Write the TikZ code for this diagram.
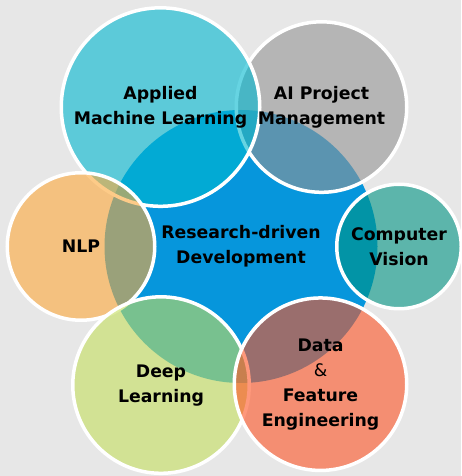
\documentclass[tikz,border=0pt]{standalone}
\usepackage{fontspec}
\setsansfont{DejaVu Sans}
\usepackage{tikz}
\definecolor{bggray}{RGB}{231,231,231}
\definecolor{hubblue}{RGB}{6,150,220}
\definecolor{cvteal}{RGB}{0,148,131}
\definecolor{pmgray}{RGB}{148,148,148}
\definecolor{amlcyan}{RGB}{0,184,208}
\definecolor{nlporange}{RGB}{253,169,58}
\definecolor{dlgreen}{RGB}{196,223,93}
\definecolor{dfesalmon}{RGB}{254,84,36}
\begin{document}
\begin{tikzpicture}[x=1pt,y=1pt,hub/.style={circle,fill=hubblue,inner sep=0pt},
    sat/.style={circle,draw=white,line width=3.5pt,fill=#1,fill opacity=0.6,
    inner sep=0pt},lbl/.style={align=center,text=black,
    font=\sffamily\bfseries\fontsize{17.3}{25}\selectfont}]
  \useasboundingbox (0,0) rectangle (461,476);
  \fill[bggray] (0,0) rectangle (461,476);
  \node[hub,minimum size=273pt] (rd) at (241,229.5) {};
  \node[sat=cvteal,minimum size=124.5pt] (cv) at ([shift={(0:158pt)}]rd.center) {};
  \node[sat=pmgray,minimum size=170.5pt] (pm) at ([shift={(60:161pt)}]rd.center) {};
  \node[sat=amlcyan,minimum size=198.5pt] (aml) at ([shift={(120:161pt)}]rd.center) {};
  \node[sat=nlporange,minimum size=147.5pt] (nlp) at ([shift={(180:160pt)}]rd.center) {};
  \node[sat=dlgreen,minimum size=176.5pt] (dl) at ([shift={(240:160pt)}]rd.center) {};
  \node[sat=dfesalmon,minimum size=172.5pt] (dfe) at ([shift={(300:159pt)}]rd.center) {};
  \node[lbl] (rd-t) at (rd) {Research-driven\\Development};
  \node[lbl] (cv-t) at (cv) {Computer\\Vision};
  \node[lbl] (pm-t) at (pm) {AI Project\\Management};
  \node[lbl] (aml-t) at (aml) {Applied\\Machine Learning};
  \node[lbl] (nlp-t) at (nlp) {NLP};
  \node[lbl] (dl-t) at (dl) {Deep\\Learning};
  \node[lbl] (dfe-t) at (dfe) {Data\\{\mdseries\&}\\Feature\\Engineering};
\end{tikzpicture}
\end{document}
